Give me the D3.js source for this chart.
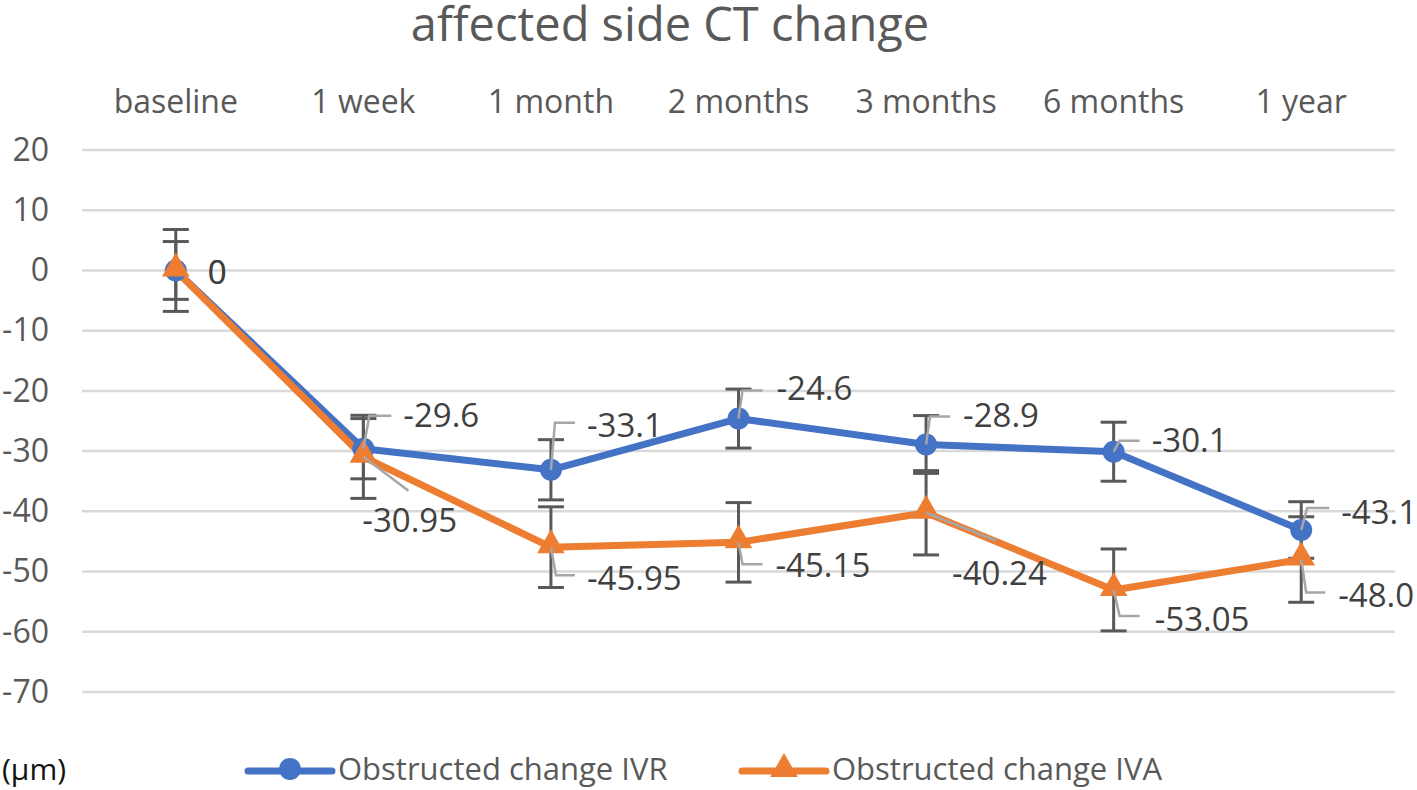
<!DOCTYPE html>
<html><head><meta charset="utf-8">
<script src="https://cdn.jsdelivr.net/npm/d3@7"></script>
<style>body{margin:0;background:#fff}svg{display:block}</style>
</head><body>
<script>
// ---- data ----
const categories = ["baseline","1 week","1 month","2 months","3 months","6 months","1 year"];
const ivrValues = [0,-29.6,-33.1,-24.6,-28.9,-30.1,-43.1];
const ivaValues = [0,-30.95,-45.95,-45.15,-40.24,-53.05,-48.0];
const ivrSD = [4.8,5.0,5.0,4.9,4.8,4.9,4.7];
const ivaSD = [6.8,6.9,6.7,6.6,7.0,6.8,7.1];
const ivrLabels = ["0","-29.6","-33.1","-24.6","-28.9","-30.1","-43.1"];
const ivaLabels = ["0","-30.95","-45.95","-45.15","-40.24","-53.05","-48.0"];
const yTicks = [20,10,0,-10,-20,-30,-40,-50,-60,-70];
const seriesNames = ["Obstructed change IVR","Obstructed change IVA"];
const titleText = "affected side CT change";
const unitText = "(μm)";

// ---- layout ----
const W = 1417, H = 790;
const FONT = "'Open Sans', 'Noto Sans', sans-serif";
const BLUE = "#4472C4", ORANGE = "#ED7D31";
const svg = d3.select("body").append("svg").attr("width", W).attr("height", H);

const x = d3.scaleBand().domain(categories).range([82, 1395]);
const cx = c => x(c) + x.bandwidth()/2;
const y = d3.scaleLinear().domain([-70, 20]).range([692, 150]);

// title
svg.append("text").attr("x", 670).attr("y", 41).attr("text-anchor","middle")
  .attr("font-family", FONT).attr("font-size", 47).attr("fill","#595959").text(titleText);

// gridlines
svg.append("g").selectAll("line").data(yTicks).join("line")
  .attr("x1", 82).attr("x2", 1395).attr("y1", d=>y(d)).attr("y2", d=>y(d))
  .attr("stroke","#D9D9D9").attr("stroke-width",2.5);

// y axis labels
const yAxis = d3.axisLeft(y).tickValues(yTicks).tickSize(0).tickPadding(0).tickFormat(d3.format("d"));
const gy = svg.append("g").attr("transform","translate(49,0)").call(yAxis);
gy.select(".domain").remove();
gy.selectAll("text").attr("font-family", FONT).attr("font-size", 32).attr("fill","#595959")
  .text(d => d < 0 ? "-" + Math.abs(d) : d);

// x axis (top) labels
const xAxis = d3.axisTop(x).tickSize(0).tickPadding(0);
const gx = svg.append("g").attr("transform","translate(0,113)").call(xAxis);
gx.select(".domain").remove();
gx.selectAll("text").attr("font-family", FONT).attr("font-size", 32).attr("fill","#595959");

// error bars
function errorBars(vals, sds) {
  const g = svg.append("g").attr("stroke","#595959").attr("stroke-width",3).attr("fill","none");
  categories.forEach((c,i) => {
    const X = cx(c), y1 = y(vals[i]+sds[i]), y2 = y(vals[i]-sds[i]);
    g.append("line").attr("x1",X).attr("x2",X).attr("y1",y1).attr("y2",y2);
    g.append("line").attr("x1",X-13).attr("x2",X+13).attr("y1",y1).attr("y2",y1);
    g.append("line").attr("x1",X-13).attr("x2",X+13).attr("y1",y2).attr("y2",y2);
  });
}
errorBars(ivrValues, ivrSD);
errorBars(ivaValues, ivaSD);

// lines
const line = d3.line().x((d,i)=>cx(categories[i])).y(d=>y(d));
svg.append("path").datum(ivrValues).attr("d", line).attr("fill","none")
  .attr("stroke",BLUE).attr("stroke-width",7).attr("stroke-linejoin","round").attr("stroke-linecap","round");
svg.append("path").datum(ivaValues).attr("d", line).attr("fill","none")
  .attr("stroke",ORANGE).attr("stroke-width",7).attr("stroke-linejoin","round").attr("stroke-linecap","round");

// markers
const circleSym = d3.symbol().type(d3.symbolCircle).size(380);
const triSym = d3.symbol().type(d3.symbolTriangle).size(330);
svg.append("g").selectAll("path").data(ivrValues).join("path")
  .attr("d", circleSym).attr("fill",BLUE)
  .attr("transform",(d,i)=>`translate(${cx(categories[i])},${y(d)})`);
svg.append("g").selectAll("path").data(ivaValues).join("path")
  .attr("d", triSym).attr("fill",ORANGE)
  .attr("transform",(d,i)=>`translate(${cx(categories[i])},${y(d)-2})`);

// data labels with leader lines
const ivrLabelLayout = [
  {dx:32, dy:2, lead:null},
  {dx:40, dy:-33, lead:[[0,0],[6,-33],[28,-33]]},
  {dx:36, dy:-44, lead:[[0,0],[4,-47],[24,-47]]},
  {dx:38, dy:-30, lead:[[0,0],[4,-28],[24,-28]]},
  {dx:37, dy:-29, lead:[[0,0],[4,-28],[24,-28]]},
  {dx:38, dy:-11, lead:[[0,0],[6,-11],[26,-11]]},
  {dx:40, dy:-18, lead:[[0,0],[6,-22],[28,-22]]}
];
const ivaLabelLayout = [
  {dx:32, dy:2, lead:null},
  {dx:-1, dy:64, lead:[[0,0],[45,34]]},
  {dx:36, dy:31, lead:[[0,0],[5,28],[24,28]]},
  {dx:37, dy:23, lead:[[0,0],[4,22],[24,22]]},
  {dx:26, dy:61, lead:[[0,0],[70,28]]},
  {dx:41, dy:30, lead:[[0,0],[6,26],[26,26]]},
  {dx:37, dy:36, lead:[[0,0],[5,33],[24,33]]}
];
function dataLabels(vals, labels, layout) {
  const g = svg.append("g");
  vals.forEach((v,i) => {
    const X = cx(categories[i]), Y = y(v), L = layout[i];
    if (L.lead) {
      g.append("path").attr("d", d3.line()(L.lead.map(p=>[X+p[0], Y+p[1]])))
        .attr("fill","none").attr("stroke","#A6A6A6").attr("stroke-width",2.5);
    }
    g.append("text").attr("x", X+L.dx).attr("y", Y+L.dy).attr("dy","0.35em")
      .attr("font-family", FONT).attr("font-size", 33).attr("fill","#404040").text(labels[i]);
  });
}
dataLabels(ivrValues, ivrLabels, ivrLabelLayout);
dataLabels(ivaValues, ivaLabels, ivaLabelLayout);

// unit
svg.append("text").attr("x", 2).attr("y", 769).attr("dy","0.35em")
  .attr("font-family", FONT).attr("font-size", 30).attr("fill","#111").text(unitText);

// legend
const legend = [
  {name: seriesNames[0], color: BLUE, sym: circleSym, x0: 248},
  {name: seriesNames[1], color: ORANGE, sym: triSym, x0: 742}
];
legend.forEach(l => {
  const g = svg.append("g");
  g.append("line").attr("x1", l.x0).attr("x2", l.x0+84).attr("y1",771).attr("y2",771)
    .attr("stroke", l.color).attr("stroke-width",7).attr("stroke-linecap","round");
  g.append("path").attr("d", l.sym).attr("fill", l.color).attr("transform",`translate(${l.x0+42},${769})`);
  g.append("text").attr("x", l.x0+90).attr("y",769).attr("dy","0.35em")
    .attr("font-family", FONT).attr("font-size", 31).attr("fill","#595959").text(l.name);
});
</script>
</body></html>
